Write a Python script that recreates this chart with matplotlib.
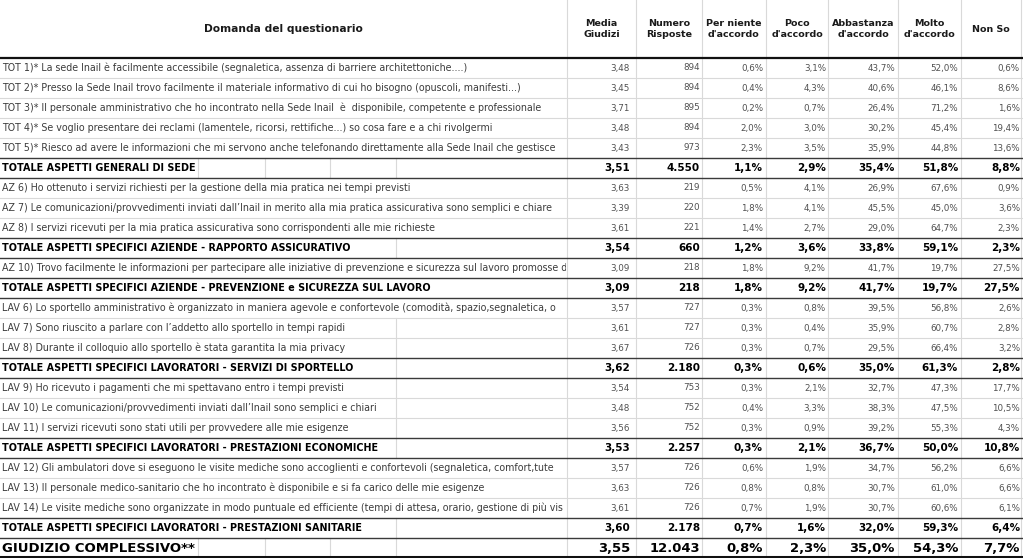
import matplotlib
matplotlib.use("Agg")
import matplotlib.pyplot as plt
from matplotlib.patches import Rectangle
from matplotlib.textpath import TextPath
from matplotlib.font_manager import FontProperties

FAMILY = "DejaVu Sans"

# --- data ---------------------------------------------------------------
header_cols = ["Media\nGiudizi", "Numero\nRisposte", "Per niente\nd'accordo", "Poco\nd'accordo",
               "Abbastanza\nd'accordo", "Molto\nd'accordo", "Non So"]

# the long questions are cut where the cell ends in the sheet
questions = [
    "TOT 1)* La sede Inail è facilmente accessibile (segnaletica, assenza di barriere architettoniche....)",
    "TOT 2)* Presso la Sede Inail trovo facilmente il materiale informativo di cui ho bisogno (opuscoli, manifesti...)",
    "TOT 3)* Il personale amministrativo che ho incontrato nella Sede Inail  è  disponibile, competente e professionale",
    "TOT 4)* Se voglio presentare dei reclami (lamentele, ricorsi, rettifiche...) so cosa fare e a chi rivolgermi",
    "TOT 5)* Riesco ad avere le informazioni che mi servono anche telefonando direttamente alla Sede Inail che gestisce",
    "TOTALE ASPETTI GENERALI DI SEDE",
    "AZ 6) Ho ottenuto i servizi richiesti per la gestione della mia pratica nei tempi previsti",
    "AZ 7) Le comunicazioni/provvedimenti inviati dall\u2019Inail in merito alla mia pratica assicurativa sono semplici e chiare",
    "AZ 8) I servizi ricevuti per la mia pratica assicurativa sono corrispondenti alle mie richieste",
    "TOTALE ASPETTI SPECIFICI AZIENDE - RAPPORTO ASSICURATIVO",
    "AZ 10) Trovo facilmente le informazioni per partecipare alle iniziative di prevenzione e sicurezza sul lavoro promosse d",
    "TOTALE ASPETTI SPECIFICI AZIENDE - PREVENZIONE e SICUREZZA SUL LAVORO",
    "LAV 6) Lo sportello amministrativo è organizzato in maniera agevole e confortevole (comodità, spazio,segnaletica, o",
    "LAV 7) Sono riuscito a parlare con l\u2019addetto allo sportello in tempi rapidi",
    "LAV 8) Durante il colloquio allo sportello è stata garantita la mia privacy",
    "TOTALE ASPETTI SPECIFICI LAVORATORI - SERVIZI DI SPORTELLO",
    "LAV 9) Ho ricevuto i pagamenti che mi spettavano entro i tempi previsti",
    "LAV 10) Le comunicazioni/provvedimenti inviati dall\u2019Inail sono semplici e chiari",
    "LAV 11) I servizi ricevuti sono stati utili per provvedere alle mie esigenze",
    "TOTALE ASPETTI SPECIFICI LAVORATORI - PRESTAZIONI ECONOMICHE",
    "LAV 12) Gli ambulatori dove si eseguono le visite mediche sono accoglienti e confortevoli (segnaletica, comfort,tute",
    "LAV 13) Il personale medico-sanitario che ho incontrato è disponibile e si fa carico delle mie esigenze",
    "LAV 14) Le visite mediche sono organizzate in modo puntuale ed efficiente (tempi di attesa, orario, gestione di più vis",
    "TOTALE ASPETTI SPECIFICI LAVORATORI - PRESTAZIONI SANITARIE",
    "GIUDIZIO COMPLESSIVO**",
]
# q = domanda, t = totale di sezione, g = giudizio complessivo
row_kind = ["q", "q", "q", "q", "q", "t",
            "q", "q", "q", "t",
            "q", "t",
            "q", "q", "q", "t",
            "q", "q", "q", "t",
            "q", "q", "q", "t",
            "g"]

media = [3.48, 3.45, 3.71, 3.48, 3.43, 3.51,
         3.63, 3.39, 3.61, 3.54,
         3.09, 3.09,
         3.57, 3.61, 3.67, 3.62,
         3.54, 3.48, 3.56, 3.53,
         3.57, 3.63, 3.61, 3.60,
         3.55]
risposte = [894, 894, 895, 894, 973, 4550,
            219, 220, 221, 660,
            218, 218,
            727, 727, 726, 2180,
            753, 752, 752, 2257,
            726, 726, 726, 2178,
            12043]
per_niente = [0.6, 0.4, 0.2, 2.0, 2.3, 1.1,
              0.5, 1.8, 1.4, 1.2,
              1.8, 1.8,
              0.3, 0.3, 0.3, 0.3,
              0.3, 0.4, 0.3, 0.3,
              0.6, 0.8, 0.7, 0.7,
              0.8]
poco = [3.1, 4.3, 0.7, 3.0, 3.5, 2.9,
        4.1, 4.1, 2.7, 3.6,
        9.2, 9.2,
        0.8, 0.4, 0.7, 0.6,
        2.1, 3.3, 0.9, 2.1,
        1.9, 0.8, 1.9, 1.6,
        2.3]
abbastanza = [43.7, 40.6, 26.4, 30.2, 35.9, 35.4,
              26.9, 45.5, 29.0, 33.8,
              41.7, 41.7,
              39.5, 35.9, 29.5, 35.0,
              32.7, 38.3, 39.2, 36.7,
              34.7, 30.7, 30.7, 32.0,
              35.0]
molto = [52.0, 46.1, 71.2, 45.4, 44.8, 51.8,
         67.6, 45.0, 64.7, 59.1,
         19.7, 19.7,
         56.8, 60.7, 66.4, 61.3,
         47.3, 47.5, 55.3, 50.0,
         56.2, 61.0, 60.6, 59.3,
         54.3]
non_so = [0.6, 8.6, 1.6, 19.4, 13.6, 8.8,
          0.9, 3.6, 2.3, 2.3,
          27.5, 27.5,
          2.6, 2.8, 3.2, 2.8,
          17.7, 10.5, 4.3, 10.8,
          6.6, 6.6, 6.1, 6.4,
          7.7]


def fmt_media(v):
    return f"{v:.2f}".replace(".", ",")


def fmt_num(v):
    return f"{v:,}".replace(",", ".")


def fmt_pct(v):
    return f"{v:.1f}%".replace(".", ",")


def text_width(s, size, weight="normal"):
    fp = FontProperties(family=FAMILY, weight=weight)
    return TextPath((0, 0), s, size=size, prop=fp).get_extents().width * 100 / 72


def size_for(s, px, weight="normal"):
    return 10 * px / text_width(s, 10, weight)


# --- layout (pixels) ----------------------------------------------------
W, H = 1023, 558
HEAD_H = 57.5
ROW_H = 20
col_edges = [567, 636, 702, 766, 828, 898, 961, 1021]
num_right = [630, 700, 763, 826, 895, 958, 1020]
first_col_grid = [198, 265, 330, 396]

GRID = "#d9d9d9"
DARK = "#3a3a3a"

fs_q = size_for(questions[0], 465)
fs_t = size_for(questions[11], 428, "bold")
fs_g = size_for(questions[24], 192, "bold")
fs_num = size_for("43,7%", 27)
fs_num_t = size_for("35,4%", 35, "bold")
fs_num_g = size_for("12.043", 48, "bold")
fs_head = size_for("d'accordo", 51, "bold")
fs_title = size_for("Domanda del questionario", 157, "bold")

fig = plt.figure(figsize=(W / 100, H / 100), dpi=100)
ax = fig.add_axes([0, 0, 1, 1])
ax.set_xlim(0, W)
ax.set_ylim(H, 0)
ax.axis("off")

# header
ax.text(283, 29, "Domanda del questionario", ha="center", va="center",
        fontsize=fs_title, fontweight="bold", color="#1a1a1a", family=FAMILY)
for i, lab in enumerate(header_cols):
    cx = (col_edges[i] + col_edges[i + 1]) / 2
    ax.text(cx, 29, lab, ha="center", va="center", fontsize=fs_head, fontweight="bold",
            color="#1a1a1a", family=FAMILY, linespacing=1.15)

# vertical grid of the numeric columns
for x in col_edges:
    ax.plot([x, x], [0, H], color=GRID, lw=0.8, zorder=1)

clip = Rectangle((0, 0), col_edges[0] - 1, H, transform=ax.transData)
columns = [media, risposte, per_niente, poco, abbastanza, molto, non_so]
formats = [fmt_media, fmt_num, fmt_pct, fmt_pct, fmt_pct, fmt_pct, fmt_pct]

for r, lab in enumerate(questions):
    kind = row_kind[r]
    top = HEAD_H + r * ROW_H
    cy = top + ROW_H / 2 + 0.5
    if kind == "q":
        fs, fw, col, fsn, ncol = fs_q, "normal", "#3c3c3c", fs_num, "#505050"
    elif kind == "t":
        fs, fw, col, fsn, ncol = fs_t, "bold", "#000000", fs_num_t, "#000000"
    else:
        fs, fw, col, fsn, ncol = fs_g, "bold", "#000000", fs_num_g, "#000000"
        cy += 1
    t = ax.text(2, cy, lab, ha="left", va="center", fontsize=fs, fontweight=fw,
                color=col, family=FAMILY, zorder=3)
    t.set_clip_on(True)
    t.set_clip_path(clip)

    # excel hides gridlines under overflowing text
    right = 2 + text_width(lab, fs, fw)
    for x in first_col_grid:
        if x > right + 2:
            ax.plot([x, x], [top, top + ROW_H], color=GRID, lw=0.8, zorder=1)

    for c in range(7):
        ax.text(num_right[c], cy, formats[c](columns[c][r]), ha="right", va="center",
                fontsize=fsn, fontweight=fw, color=ncol, family=FAMILY, zorder=3)

    # horizontal line at the bottom of the row
    bottom = top + ROW_H
    nxt = row_kind[r + 1] if r + 1 < len(row_kind) else None
    if nxt is None:
        continue
    if kind != "q" or nxt != "q":
        ax.plot([0, W], [bottom, bottom], color=DARK, lw=1.0, zorder=2)
    else:
        ax.plot([0, W], [bottom, bottom], color=GRID, lw=0.8, zorder=2)

ax.plot([0, W], [HEAD_H, HEAD_H], color="#111111", lw=1.6, zorder=2)
ax.plot([0, W], [H - 1.5, H - 1.5], color="#111111", lw=2.2, zorder=2)

fig.savefig("out.png", dpi=100)
